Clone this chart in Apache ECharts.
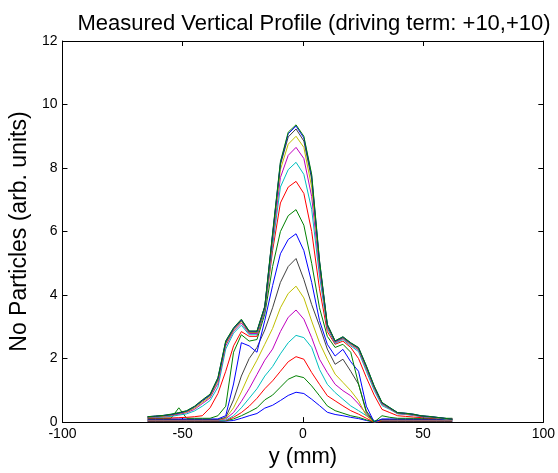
<!DOCTYPE html>
<html>
<head>
<meta charset="utf-8">
<script src="https://cdn.jsdelivr.net/npm/echarts@6/dist/echarts.min.js"></script>
<style>
  html, body { margin: 0; padding: 0; background: #fff; }
  #chart { width: 558px; height: 473px; }
</style>
</head>
<body>
<div id="chart"></div>
<script>
// Beam position across the scan (mm)
var yPos = [-64.6, -61.35, -58.1, -54.85, -51.6, -48.35, -45.1, -41.85, -38.6, -35.35,
            -32.1, -28.85, -25.6, -22.35, -19.1, -15.85, -12.6, -9.35, -6.1, -2.85,
            0.4, 3.65, 6.9, 10.15, 13.4, 16.65, 19.9, 23.15, 26.4, 29.65,
            32.9, 36.15, 39.4, 42.65, 45.9, 49.15, 52.4, 55.65, 58.9, 62.15];

// Measured profiles, one per turn (arb. units)
var profile01 = [0.02,0.02,0.02,0.02,0.02,0.02,0.02,0.02,0.02,0.02, 0.03,0.05,0.12,0.20,0.27,0.44,0.53,0.68,0.84,0.94, 0.90,0.72,0.52,0.31,0.24,0.20,0.15,0.11,0.05,0.00, 0.02,0.02,0.02,0.02,0.02,0.02,0.02,0.02,0.02,0.02];
var profile02 = [0.03,0.03,0.03,0.03,0.03,0.03,0.03,0.03,0.03,0.03, 0.04,0.10,0.20,0.32,0.45,0.70,0.85,1.10,1.35,1.46, 1.40,1.14,0.83,0.51,0.36,0.28,0.20,0.15,0.07,0.00, 0.03,0.03,0.03,0.03,0.03,0.03,0.03,0.03,0.03,0.03];
var profile03 = [0.04,0.04,0.04,0.04,0.04,0.04,0.04,0.04,0.04,0.04, 0.05,0.15,0.30,0.50,0.75,1.05,1.30,1.60,1.90,2.06, 1.98,1.56,1.19,0.83,0.67,0.51,0.36,0.25,0.12,0.00, 0.04,0.04,0.04,0.04,0.04,0.04,0.04,0.04,0.04,0.04];
var profile04 = [0.05,0.05,0.05,0.05,0.05,0.05,0.05,0.05,0.05,0.05, 0.06,0.20,0.45,0.75,1.05,1.45,1.75,2.15,2.50,2.73, 2.66,2.35,1.66,1.19,0.93,0.72,0.51,0.36,0.20,0.05, 0.05,0.05,0.05,0.05,0.05,0.05,0.05,0.05,0.05,0.05];
var profile05 = [0.06,0.06,0.06,0.06,0.06,0.06,0.06,0.06,0.06,0.06, 0.10,0.30,0.65,1.05,1.50,1.95,2.30,2.85,3.30,3.53, 3.24,2.66,1.98,1.56,1.19,0.99,0.83,0.57,0.25,0.00, 0.06,0.06,0.06,0.06,0.06,0.06,0.06,0.06,0.06,0.06];
var profile06 = [0.07,0.07,0.07,0.07,0.07,0.07,0.07,0.07,0.07,0.07, 0.12,0.45,0.95,1.50,1.95,2.45,2.95,3.60,4.05,4.28, 3.91,3.18,2.50,1.98,1.51,1.25,0.99,0.67,0.20,0.00, 0.07,0.07,0.07,0.07,0.07,0.07,0.07,0.07,0.07,0.07];
var profile07 = [0.08,0.08,0.08,0.08,0.08,0.08,0.08,0.08,0.08,0.08, 0.15,0.70,1.45,2.00,2.35,2.90,3.60,4.40,4.90,5.15, 4.49,3.70,3.03,2.30,1.82,1.98,1.60,1.19,0.35,0.02, 0.08,0.08,0.08,0.08,0.08,0.08,0.08,0.08,0.08,0.08];
var profile08 = [0.10,0.10,0.10,0.10,0.10,0.10,0.10,0.10,0.10,0.10, 0.20,1.20,2.50,2.40,2.20,3.20,4.30,5.30,5.75,5.93, 5.40,4.40,3.20,2.45,2.08,2.29,1.90,1.60,0.50,0.00, 0.10,0.10,0.10,0.10,0.10,0.10,0.10,0.10,0.10,0.10];
var profile09 = [0.12,0.12,0.12,0.12,0.45,0.12,0.12,0.12,0.12,0.20, 0.50,2.20,2.75,2.55,2.60,3.40,4.90,6.00,6.50,6.69, 6.20,5.00,3.60,2.70,2.35,2.45,2.20,1.20,0.30,0.00, 0.20,0.15,0.12,0.12,0.12,0.12,0.12,0.12,0.12,0.12];
var profile10 = [0.13,0.13,0.13,0.13,0.14,0.15,0.17,0.20,0.45,0.90, 1.60,2.40,2.85,2.70,2.70,3.50,5.40,6.90,7.40,7.58, 7.20,6.00,4.20,2.85,2.45,2.55,2.35,2.00,1.40,0.85, 0.40,0.30,0.20,0.18,0.16,0.14,0.13,0.12,0.11,0.10];
var profile11 = [0.14,0.15,0.16,0.18,0.22,0.26,0.35,0.50,0.68,1.10, 2.30,2.80,3.05,2.75,2.75,3.50,5.55,7.40,7.95,8.18, 7.80,6.70,4.60,2.95,2.48,2.60,2.40,2.22,1.60,1.00, 0.52,0.40,0.26,0.24,0.21,0.17,0.15,0.13,0.10,0.08];
var profile12 = [0.15,0.16,0.18,0.21,0.25,0.30,0.40,0.58,0.76,1.22, 2.40,2.86,3.12,2.79,2.79,3.56,5.70,7.70,8.40,8.65, 8.30,7.10,4.80,3.00,2.51,2.63,2.44,2.27,1.67,1.06, 0.56,0.42,0.27,0.25,0.22,0.18,0.16,0.14,0.11,0.08];
var profile13 = [0.16,0.17,0.19,0.22,0.27,0.32,0.44,0.62,0.80,1.30, 2.46,2.90,3.17,2.82,2.82,3.60,5.80,7.95,8.75,9.00, 8.65,7.40,4.95,3.03,2.53,2.65,2.46,2.30,1.71,1.09, 0.58,0.43,0.28,0.26,0.23,0.19,0.17,0.14,0.11,0.09];
var profile14 = [0.16,0.18,0.20,0.23,0.28,0.34,0.47,0.66,0.84,1.35, 2.50,2.93,3.20,2.84,2.84,3.62,5.88,8.10,8.98,9.23, 8.85,7.65,5.02,3.05,2.54,2.66,2.48,2.32,1.74,1.11, 0.60,0.44,0.29,0.27,0.24,0.19,0.17,0.15,0.12,0.09];
var profile15 = [0.17,0.19,0.21,0.24,0.29,0.35,0.49,0.68,0.86,1.38, 2.54,2.95,3.22,2.86,2.86,3.64,5.92,8.16,9.08,9.32, 8.95,7.75,5.07,3.07,2.55,2.68,2.49,2.34,1.76,1.13, 0.61,0.45,0.30,0.28,0.25,0.20,0.18,0.15,0.12,0.09];
var profile16 = [0.17,0.19,0.21,0.25,0.30,0.36,0.50,0.70,0.88,1.40, 2.56,2.97,3.24,2.87,2.87,3.65,5.95,8.20,9.13,9.36, 9.00,7.80,5.10,3.08,2.56,2.69,2.50,2.35,1.77,1.14, 0.62,0.46,0.30,0.28,0.25,0.20,0.18,0.15,0.12,0.09];

var profiles = [profile01, profile02, profile03, profile04, profile05, profile06, profile07, profile08,
                profile09, profile10, profile11, profile12, profile13, profile14, profile15, profile16];

// Classic line colour order: b, g, r, c, m, y, k
var lineColors = ['#0000ff', '#008000', '#ff0000', '#00bfbf', '#bf00bf', '#bfbf00', '#404040'];

var xTicks = [-100, -50, 0, 50, 100];
var yTicks = [0, 2, 4, 6, 8, 10, 12];

var FONT = 'Liberation Sans, Arial, Helvetica, sans-serif';

var series = profiles.map(function (p, i) {
  return {
    name: 'turn ' + (i + 1),
    type: 'line',
    data: yPos.map(function (x, j) { return [x, p[j]]; }),
    symbol: 'none',
    lineStyle: { width: 1, color: lineColors[i % lineColors.length] },
    itemStyle: { color: lineColors[i % lineColors.length] },
    xAxisIndex: 0,
    yAxisIndex: 0,
    animation: false,
    z: 2 + i
  };
});

function xAxisDef(position, showLabels) {
  return {
    type: 'value', position: position,
    min: xTicks[0], max: xTicks[xTicks.length - 1], interval: 50,
    axisLine: { show: true, onZero: false, lineStyle: { color: '#000', width: 1 } },
    axisTick: { show: true, inside: true, length: 5, lineStyle: { color: '#000' } },
    axisLabel: { show: showLabels, color: '#000', fontSize: 14, fontFamily: FONT, margin: 5 },
    splitLine: { show: false }
  };
}
function yAxisDef(position, showLabels) {
  return {
    type: 'value', position: position,
    min: yTicks[0], max: yTicks[yTicks.length - 1], interval: 2,
    axisLine: { show: true, onZero: false, lineStyle: { color: '#000', width: 1 } },
    axisTick: { show: true, inside: true, length: 5, lineStyle: { color: '#000' } },
    axisLabel: { show: showLabels, color: '#000', fontSize: 14, fontFamily: FONT, margin: 5 },
    splitLine: { show: false }
  };
}

var xBottom = xAxisDef('bottom', true);
xBottom.name = 'y (mm)';
xBottom.nameLocation = 'middle';
xBottom.nameGap = 21;
xBottom.nameTextStyle = { color: '#000', fontSize: 22, fontFamily: FONT };

var yLeft = yAxisDef('left', true);
yLeft.name = 'No Particles (arb. units)';
yLeft.nameLocation = 'middle';
yLeft.nameGap = 28;
yLeft.nameTextStyle = { color: '#000', fontSize: 23, fontFamily: FONT };

var chart = echarts.init(document.getElementById('chart'), null, { renderer: 'canvas' });
chart.setOption({
  backgroundColor: '#ffffff',
  animation: false,
  title: {
    text: 'Measured Vertical Profile (driving term: +10,+10)',
    left: 309, top: 8, textAlign: 'center',
    textStyle: { color: '#000', fontSize: 22, fontWeight: 'normal', fontFamily: FONT }
  },
  grid: { left: 62, right: 9, top: 41, bottom: 50, containLabel: false },
  xAxis: [xBottom, xAxisDef('top', false)],
  yAxis: [yLeft, yAxisDef('right', false)],
  series: series
});
</script>
</body>
</html>
